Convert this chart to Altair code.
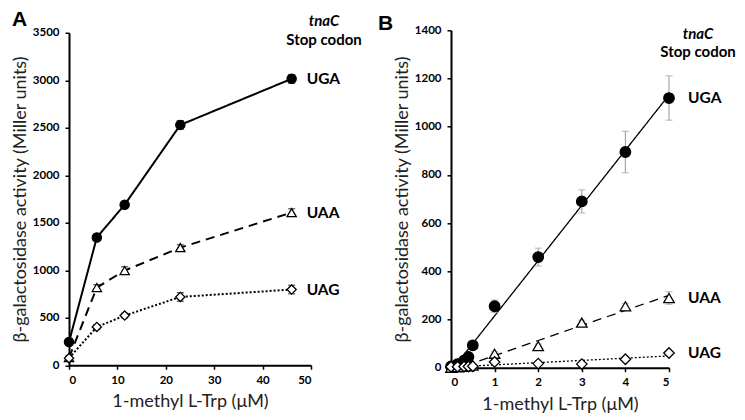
import altair as alt
import pandas as pd

# ---------------- data ----------------
series = ["UGA", "UAA", "UAG"]

a_x = [0, 5.75, 11.5, 23, 46]
a_uga = [245, 1345, 1690, 2530, 3015]
a_uga_err = [30, 35, 30, 45, 45]
a_uaa = [80, 818, 997, 1238, 1607]
a_uaa_err = [20, 30, 40, 30, 40]
a_uag = [75, 403, 523, 719, 797]
a_uag_err = [20, 25, 25, 45, 45]

b_x = [0, 0.15, 0.3, 0.4, 0.5, 1, 2, 3, 4, 5]
b_uga = [5, 15, 30, 45, 93, 255, 459, 690, 895, 1119]
b_uga_err = [2, 3, 4, 5, 8, 26, 37, 48, 86, 92]
b_uaa = [0, 2, 4, 6, 9, 58, 90, 187, 255, 289]
b_uaa_err = [1, 1, 1, 2, 2, 8, 8, 10, 12, 26]
b_uag = [4, 4, 5, 5, 6, 24, 17, 15, 35, 61]
b_uag_err = [1, 1, 1, 1, 1, 5, 4, 4, 5, 6]

a_ticks_x = [0, 10, 20, 30, 40, 50]
a_ticks_y = [0, 500, 1000, 1500, 2000, 2500, 3000, 3500]
b_ticks_x = [0, 1, 2, 3, 4, 5]
b_ticks_y = [0, 200, 400, 600, 800, 1000, 1200, 1400]

x_title = "1-methyl L-Trp (μM)"
y_title = "β-galactosidase activity (Miller units)"

FONT = "Lato"


def make_df(xs, vals, errs):
    rows = []
    for s, v, e in zip(series, vals, errs):
        for xi, yi, ei in zip(xs, v, e):
            rows.append({"x": xi, "y": yi, "lo": yi - ei, "hi": yi + ei, "s": s})
    return pd.DataFrame(rows)


dfA = make_df(a_x, [a_uga, a_uaa, a_uag], [a_uga_err, a_uaa_err, a_uag_err])
dfB = make_df(b_x, [b_uga, b_uaa, b_uag], [b_uga_err, b_uaa_err, b_uag_err])

shape_scale = alt.Scale(domain=series, range=["circle", "triangle-up", "diamond"])
fill_scale = alt.Scale(domain=series, range=["black", "white", "white"])
dash_scale_A = alt.Scale(domain=series, range=[[1, 0], [9, 6], [2, 2]])
dash_scale_B = alt.Scale(domain=series, range=[[1, 0], [9, 5], [1.5, 1.5]])


def panel(df, xdom, ydom, xticks, yticks, w, h, dash_scale, err_color,
          regression, letter, letter_dx, letter_dy, lab_dx, head_x, head_y1, head_y2,
          pt_size, line_w):
    base = alt.Chart(df)
    xenc = alt.X("x:Q", scale=alt.Scale(domain=xdom, nice=False, zero=False),
                 axis=alt.Axis(values=xticks, title=x_title, format="d", titlePadding=7))
    yenc = alt.Y("y:Q", scale=alt.Scale(domain=ydom, nice=False),
                 axis=alt.Axis(values=yticks, title=y_title, format="d"))

    if regression:
        lines = []
        for s in series:
            lines.append(
                base.transform_filter(alt.datum.s == s)
                .transform_regression("x", "y", extent=xdom)
                .transform_calculate(s=f"'{s}'")
                .mark_line(color="black", strokeWidth=line_w, clip=True)
                .encode(x=xenc, y=yenc,
                        strokeDash=alt.StrokeDash("s:N", scale=dash_scale, legend=None))
            )
        line_layer = alt.layer(*lines)
    else:
        line_layer = base.mark_line(color="black", strokeWidth=line_w).encode(
            x=xenc, y=yenc,
            detail="s:N",
            strokeDash=alt.StrokeDash("s:N", scale=dash_scale, legend=None),
        )

    err = base.mark_rule(color=err_color, strokeWidth=1.2).encode(
        x="x:Q", y="lo:Q", y2="hi:Q")
    cap_lo = base.mark_tick(color=err_color, thickness=1.2, size=7, orient="horizontal").encode(
        x="x:Q", y="lo:Q")
    cap_hi = base.mark_tick(color=err_color, thickness=1.2, size=7, orient="horizontal").encode(
        x="x:Q", y="hi:Q")

    pts = base.mark_point(filled=True, opacity=1, stroke="black", strokeWidth=1.3,
                          size=pt_size).encode(
        x="x:Q", y="y:Q",
        shape=alt.Shape("s:N", scale=shape_scale, legend=None),
        fill=alt.Fill("s:N", scale=fill_scale, legend=None),
    )

    last = df[df["x"] == max(df["x"])]
    labels = alt.Chart(last).mark_text(
        align="left", baseline="middle", dx=lab_dx, font=FONT, fontSize=15.5,
        fontWeight="bold", color="black").encode(x="x:Q", y="y:Q", text="s:N")

    head1 = alt.Chart(pd.DataFrame({"t": ["tnaC"]})).mark_text(
        align="center", baseline="middle", font=FONT, fontSize=15, fontWeight="bold",
        fontStyle="italic", color="black").encode(
        x=alt.value(head_x), y=alt.value(head_y1), text="t:N")
    head2 = alt.Chart(pd.DataFrame({"t": ["Stop codon"]})).mark_text(
        align="center", baseline="middle", font=FONT, fontSize=15, fontWeight="bold",
        color="black").encode(
        x=alt.value(head_x), y=alt.value(head_y2), text="t:N")
    let = alt.Chart(pd.DataFrame({"t": [letter]})).mark_text(
        align="left", baseline="top", font="Liberation Sans", fontSize=21,
        fontWeight="bold", color="black").encode(
        x=alt.value(letter_dx), y=alt.value(letter_dy), text="t:N")

    return alt.layer(line_layer, err, cap_lo, cap_hi, pts, labels, head1, head2, let).properties(
        width=w, height=h)


pA = panel(dfA, [0, 50], [0, 3500], a_ticks_x, a_ticks_y, 242, 332.5, dash_scale_A,
           "black", False, "A", -57, -24, 15, 255, -12, 7, 85, 2)
pB = panel(dfB, [0, 5], [0, 1400], b_ticks_x, b_ticks_y, 218, 337.4, dash_scale_B,
           "#a8a8a8", True, "B", -73, -17, 19, 247, 4, 22, 110, 1.3)

chart = alt.hconcat(pA, pB, spacing=140, bounds="flush", center=True).properties(
    padding={"left": 3, "top": 0, "right": 0, "bottom": 0}
).configure_view(stroke=None).configure_axis(
    domainColor="black", domainWidth=2, tickColor="black", tickWidth=1.5, tickSize=4,
    grid=False, labelFont=FONT, labelFontSize=11.5, labelFontWeight="bold",
    labelColor="black", labelPadding=5, titleFont=FONT, titleFontSize=18,
    titleFontWeight="normal", titleColor="#222222", titlePadding=3,
).configure_axisY(labelPadding=6)

chart.save("out.html", embed_options={"renderer": "svg", "actions": False})
